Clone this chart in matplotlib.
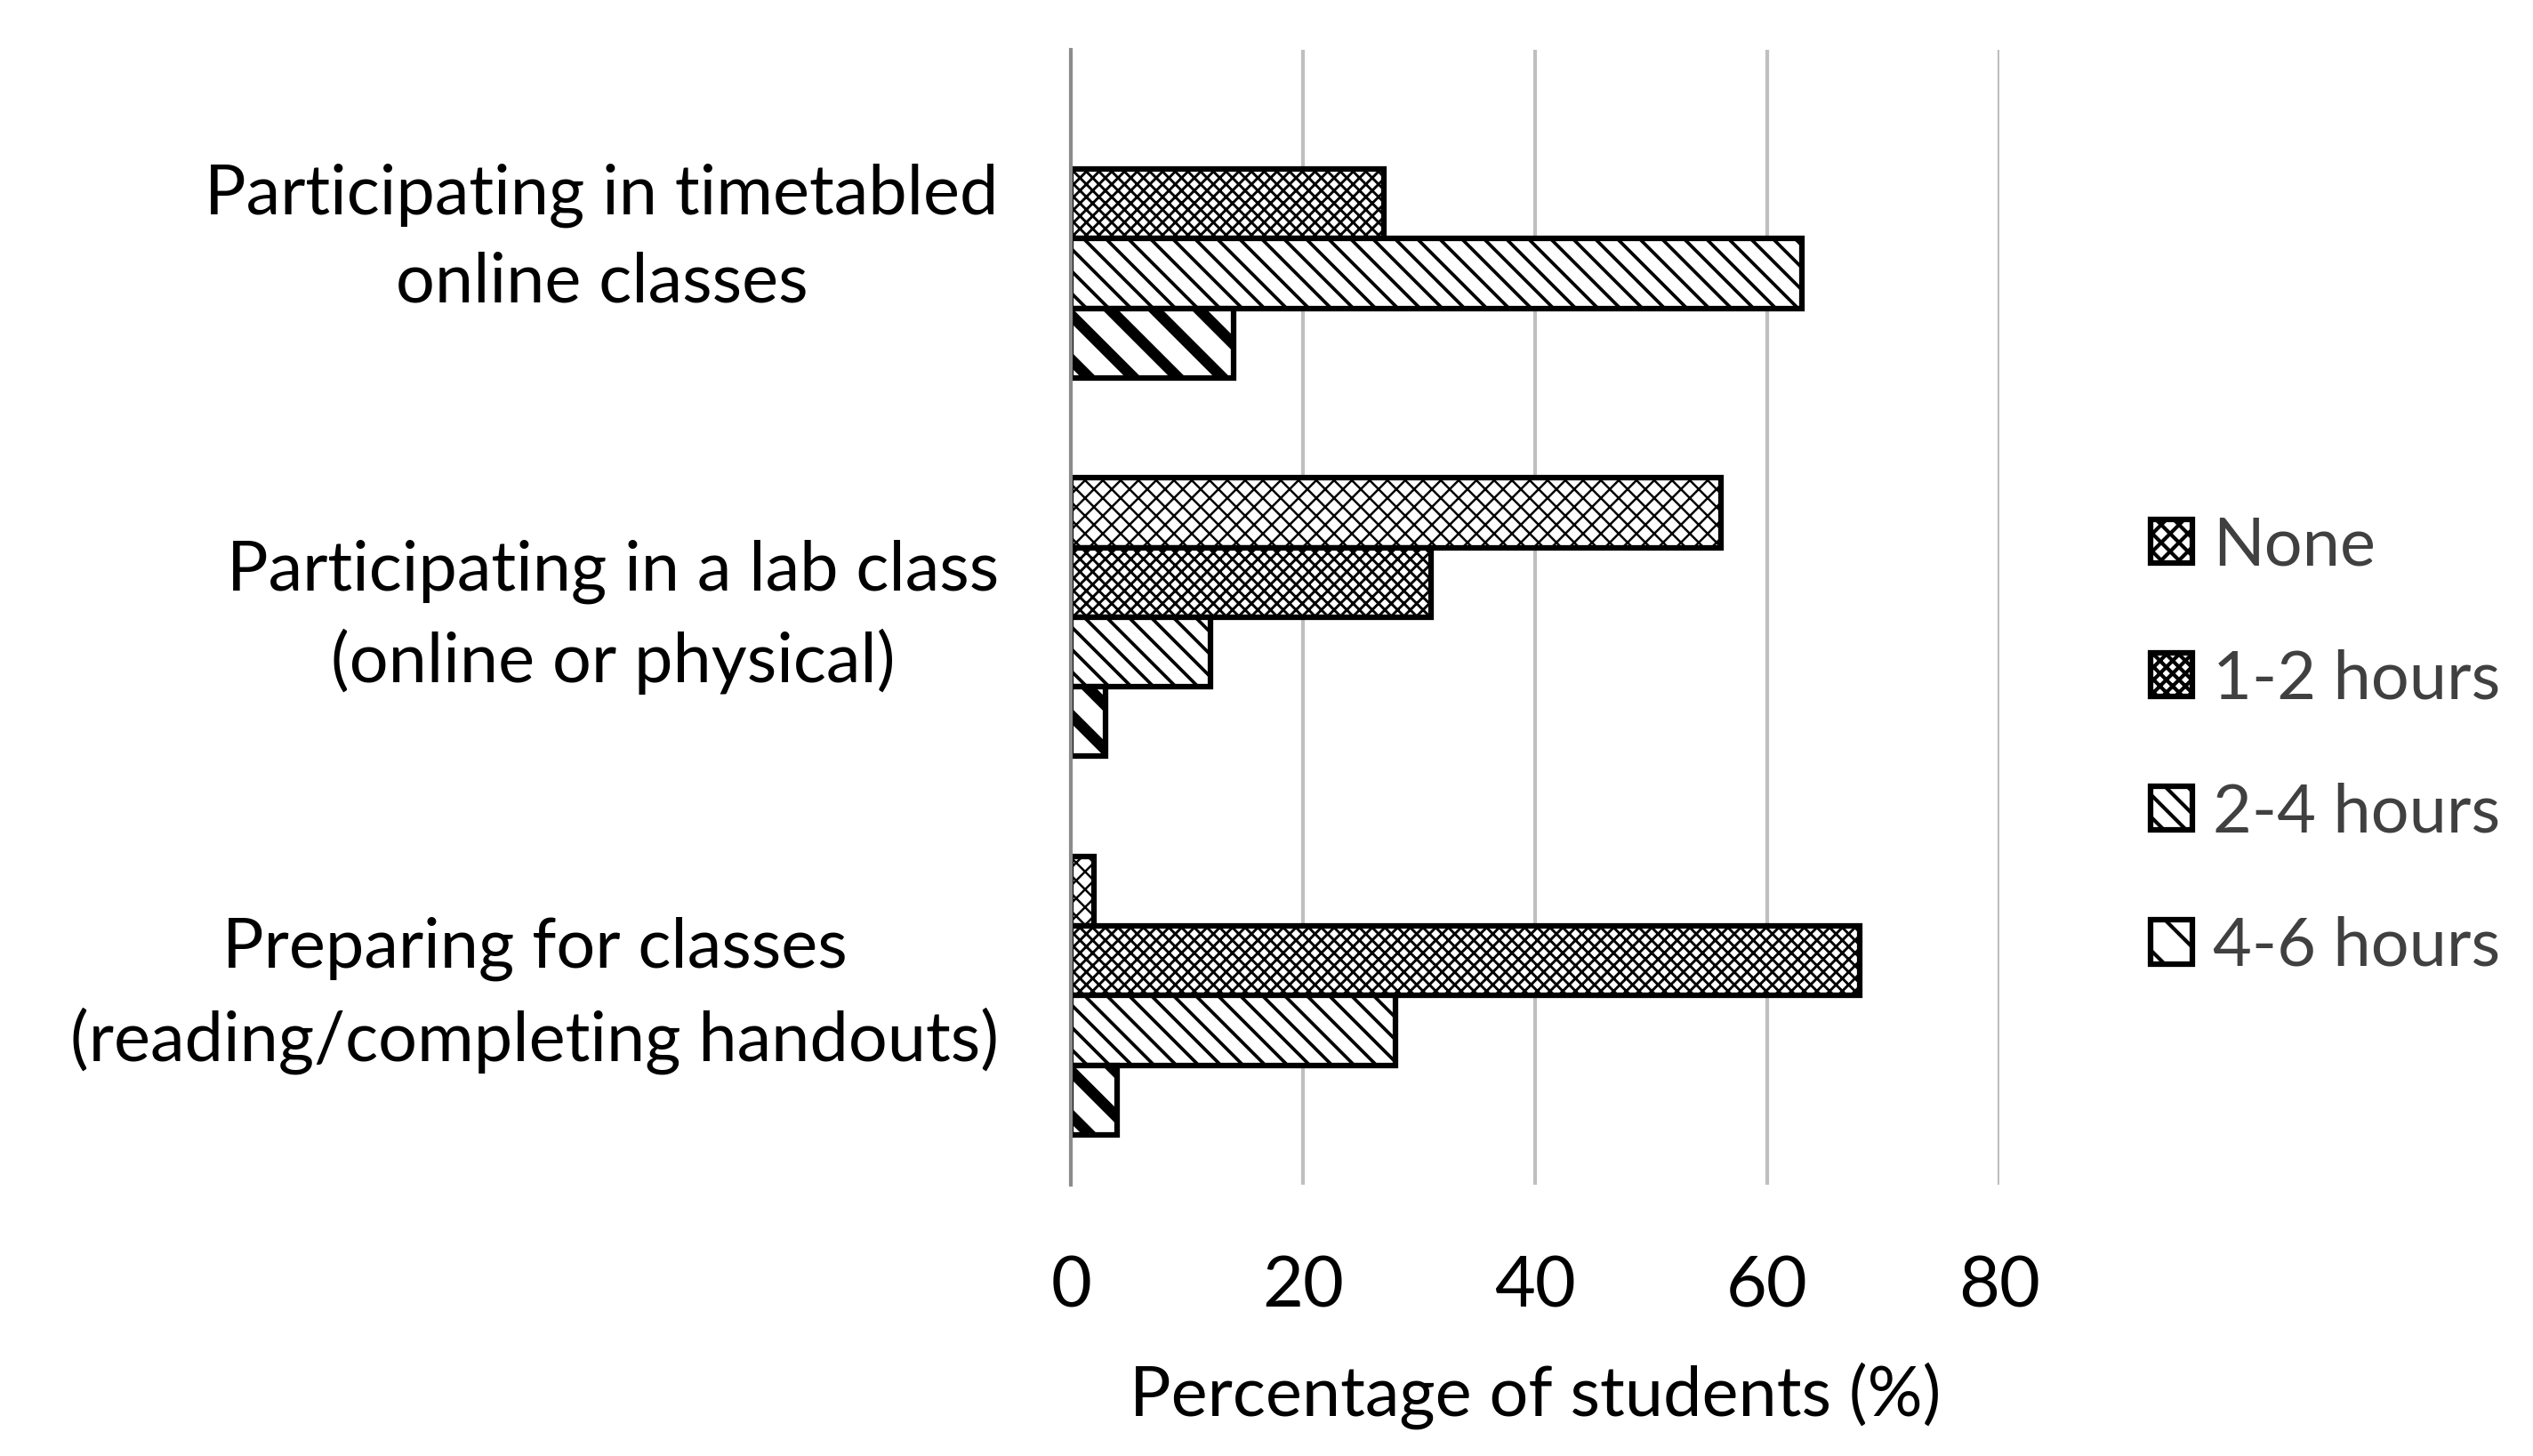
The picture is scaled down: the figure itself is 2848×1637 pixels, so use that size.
import numpy as np
import matplotlib.pyplot as plt
import matplotlib as mpl
import matplotlib.patches as mpatches
import matplotlib.transforms as mtransforms

#---------- data

categories = ['Participating in timetabled\nonline classes',
              'Participating in a lab class\n(online or physical)',
              'Preparing for classes\n(reading/completing handouts)']
series = ['None', '1-2 hours', '2-4 hours', '4-6 hours']
none_vals = [0, 56, 2]
h12_vals = [27, 31, 68]
h24_vals = [63, 12, 28]
h46_vals = [14, 3, 4]

hatches = ['xxxxx', 'xxxxxxx', '\\\\\\\\', '\\\\']
hatch_lw = [0.6, 0.7, 0.9, 3.0]

#---------- plot

plt.rcParams['font.family'] = ['Lato', 'DejaVu Sans']
fs = 19.0

fig = plt.figure(figsize=(2848/300., 1637/300.), dpi=300)
ax = fig.add_axes([0.4228, 0.1863, 0.7893-0.4228, 0.966-0.1863])

y = np.arange(len(categories))
h = 0.184
vals = [none_vals, h12_vals, h24_vals, h46_vals]
handles = []
for i in range(len(series)):
	with mpl.rc_context({'hatch.linewidth': hatch_lw[i]}):
		bars = ax.barh(y + (i-1.5)*h, vals[i], height=h, color='white', edgecolor='black',
			linewidth=1.5, hatch=hatches[i], zorder=3)
		for j, b in enumerate(bars):
			if hasattr(b, 'set_hatch_linewidth'):
				b.set_hatch_linewidth(hatch_lw[i])
			if vals[i][j] == 0:
				b.set_visible(False)
		p = mpatches.Patch(facecolor='white', edgecolor='black', linewidth=1.5,
			hatch=hatches[i], label=series[i])
		if hasattr(p, 'set_hatch_linewidth'):
			p.set_hatch_linewidth(hatch_lw[i])
		handles.append(p)

ax.set_ylim(2.5, -0.5)
ax.set_xlim(0, 80)
ax.set_xticks([0, 20, 40, 60, 80])
ax.set_yticks(y)
ax.set_yticklabels([])

# category labels, centred lines, placed left of the axis
off = mtransforms.ScaledTranslation(-19.5/72., 0, fig.dpi_scale_trans)
for yi, cat in zip(y, categories):
	ax.text(0, yi, cat, transform=ax.get_yaxis_transform() + off, ha='right', va='center',
		multialignment='center', linespacing=1.47, fontsize=18.6, color='black')

ax.tick_params(axis='x', length=0, pad=19, labelsize=fs)
ax.tick_params(axis='y', length=0)
ax.grid(axis='x', color='#bfbfbf', linewidth=1.0, zorder=0)
ax.set_axisbelow(True)
for s in ['top', 'right']:
	ax.spines[s].set_visible(False)
ax.spines['bottom'].set_visible(False)
ax.spines['left'].set_color('#8c8c8c')
ax.spines['left'].set_linewidth(1.0)
ax.spines['left'].set_zorder(4)
ax.set_xlabel('Percentage of students (%)', fontsize=18.6, labelpad=11.5)

leg = fig.legend(handles=handles, loc='center left', bbox_to_anchor=(0.849, 0.4875),
	frameon=False, fontsize=18.2, handlelength=0.62, handleheight=0.62,
	handletextpad=0.3, labelspacing=1.07, borderpad=0, borderaxespad=0)
for t in leg.get_texts():
	t.set_color('#404040')

plt.savefig('out.png', dpi=300)
plt.close()
